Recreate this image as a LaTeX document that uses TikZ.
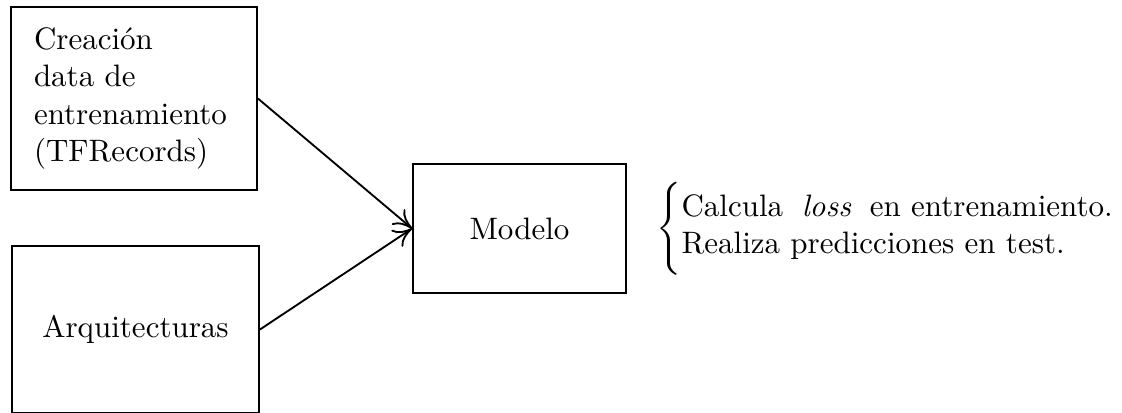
\documentclass[tikz,border=0pt]{standalone}
\usepackage{amsmath}
\usetikzlibrary{arrows.meta}
% row struts for the list beside the model
\newcommand{\topstrut}{\rule[-3.6pt]{0pt}{12pt}}
\newcommand{\botstrut}{\rule[-4.4pt]{0pt}{8.4pt}}
\begin{document}
\begin{tikzpicture}[x=0.3226pt, y=-0.3226pt,
  box/.style={draw, line width=0.6pt, inner sep=0pt},
  link/.style={-{To[length=6pt,width=6.5pt]}, line width=0.6pt}]
\useasboundingbox (0,0) rectangle (1122,412);
% input stages
\node[box, minimum width=246*0.3226pt, minimum height=183*0.3226pt,
      text width=200*0.3226pt, align=left] (data) at (134,98.5)
  {Creación\\data de\\entrenamiento\\(TFRecords)};
\node[box, minimum width=247*0.3226pt, minimum height=167*0.3226pt] (arq) at (135.5,329.5)
  {Arquitecturas};
% model
\node[box, minimum width=213*0.3226pt, minimum height=129*0.3226pt] (modelo) at (519.5,228.5)
  {Modelo};
% model outputs
\node[anchor=west, inner sep=0pt] (tareas) at (656,229)
  {$\left\{\vphantom{\rule[-12.5pt]{0pt}{30pt}}\begin{array}{@{}l@{}}
     \topstrut\text{Calcula\hspace{0.6em}\textit{loss}\hspace{0.6em}en entrenamiento.}\\
     \botstrut\text{Realiza predicciones en test.}
   \end{array}\right.$};
\draw[link] (data.east) -- (modelo.west);
\draw[link] (arq.east) -- (modelo.west);
\end{tikzpicture}
\end{document}
